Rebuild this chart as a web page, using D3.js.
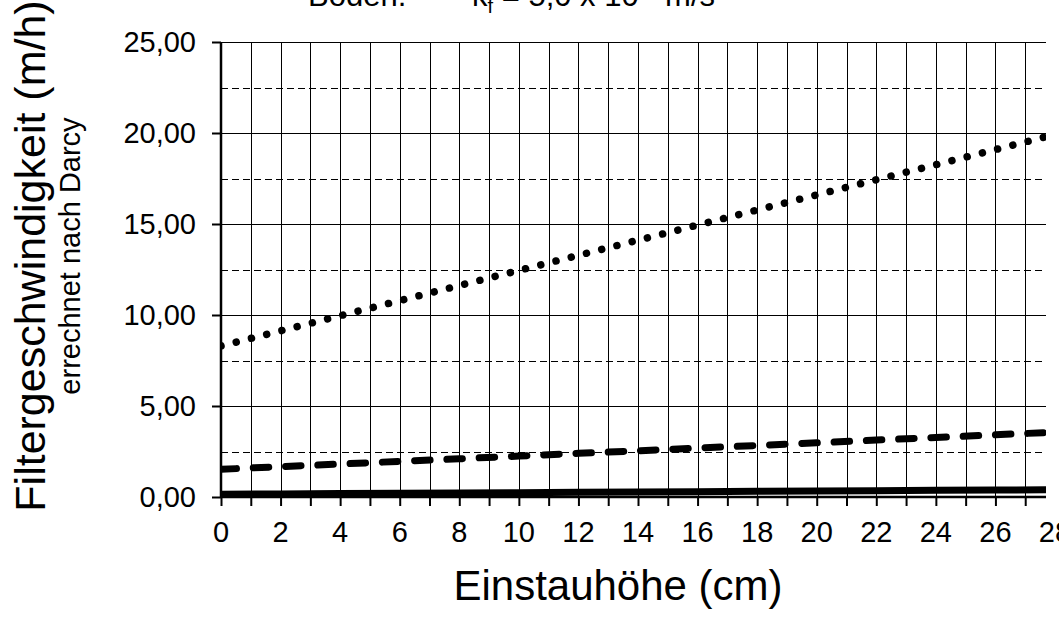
<!DOCTYPE html>
<html>
<head>
<meta charset="utf-8">
<script src="https://cdn.jsdelivr.net/npm/d3@7/dist/d3.min.js"></script>
<style>
  html, body { margin: 0; padding: 0; background: #fff; }
  svg { display: block; }
  text { font-family: "Liberation Sans", Arial, sans-serif; fill: #000; }
</style>
</head>
<body>
<svg id="chart" width="1059" height="622"></svg>
<script>
// ---- data ----
const heights = [0, 2, 4, 6, 8, 10, 12, 14, 16, 18, 20, 22, 24, 26, 28];           // Einstauhöhe (cm)
const seriesDotted = [8.30, 9.13, 9.96, 10.79, 11.62, 12.45, 13.28, 14.11, 14.94, 15.77, 16.60, 17.43, 18.26, 19.09, 19.92];
const seriesDashed = [1.52, 1.67, 1.81, 1.96, 2.10, 2.25, 2.40, 2.54, 2.69, 2.83, 2.98, 3.13, 3.27, 3.42, 3.56];
const seriesSolid  = [0.15, 0.17, 0.19, 0.20, 0.22, 0.24, 0.26, 0.28, 0.29, 0.31, 0.33, 0.35, 0.37, 0.38, 0.40];
const xTickLabels = [0, 2, 4, 6, 8, 10, 12, 14, 16, 18, 20, 22, 24, 26, 28];
const yMajorTicks = [0, 5, 10, 15, 20, 25];
const yMinorDashed = [2.5, 7.5, 12.5, 17.5, 22.5];
const xGridTicks = d3.range(1, 28);
const xAxisTicks = d3.range(0, 28);

// ---- layout ----
const pLeft = 221, pTop = 42, pBottom = 497, pRight = 1046;
const x = d3.scaleLinear().domain([0, 28]).range([pLeft, 1055]);
const y = d3.scaleLinear().domain([0, 25]).range([pBottom, pTop]);
const fmt = v => d3.format(".2f")(v).replace(".", ",");

const svg = d3.select("#chart");

svg.append("defs").append("clipPath").attr("id", "plotClip")
  .append("rect").attr("x", pLeft).attr("y", pTop - 10)
  .attr("width", pRight - pLeft).attr("height", pBottom - pTop + 10);

// vertical gridlines
svg.append("g").selectAll("line").data(xGridTicks).join("line")
  .attr("x1", d => Math.round(x(d)) + 0.5).attr("x2", d => Math.round(x(d)) + 0.5)
  .attr("y1", pTop).attr("y2", pBottom)
  .attr("stroke", "#000").attr("stroke-width", 1);

// horizontal solid gridlines
svg.append("g").selectAll("line").data(yMajorTicks.filter(d => d > 0)).join("line")
  .attr("x1", pLeft).attr("x2", pRight)
  .attr("y1", d => Math.round(y(d)) + 0.5).attr("y2", d => Math.round(y(d)) + 0.5)
  .attr("stroke", "#000").attr("stroke-width", 1);

// horizontal dashed gridlines
svg.append("g").selectAll("line").data(yMinorDashed).join("line")
  .attr("x1", pLeft).attr("x2", pRight)
  .attr("y1", d => Math.round(y(d)) + 0.5).attr("y2", d => Math.round(y(d)) + 0.5)
  .attr("stroke", "#000").attr("stroke-width", 1.2).attr("stroke-dasharray", "7,4");

// series
const line = d3.line().x((d, i) => x(heights[i])).y(d => y(d));
const g = svg.append("g").attr("clip-path", "url(#plotClip)");

g.append("path").datum(seriesSolid).attr("d", line)
  .attr("fill", "none").attr("stroke", "#000").attr("stroke-width", 7);

g.append("path").datum(seriesDashed).attr("d", line)
  .attr("fill", "none").attr("stroke", "#000").attr("stroke-width", 7)
  .attr("stroke-linecap", "round").attr("stroke-dasharray", "15.5,16.8");

g.append("path").datum(seriesDotted).attr("d", line)
  .attr("fill", "none").attr("stroke", "#000").attr("stroke-width", 7.5)
  .attr("stroke-linecap", "round").attr("stroke-dasharray", "0.01,15.7");

// x axis
const xAxis = d3.axisBottom(x).tickValues(xAxisTicks).tickSize(9).tickFormat("");
const gx = svg.append("g").attr("transform", `translate(0,${pBottom})`).call(xAxis);
gx.select(".domain").remove();
gx.selectAll(".tick line").attr("stroke", "#000").attr("stroke-width", 2);
svg.append("line").attr("x1", pLeft).attr("x2", pRight).attr("y1", pBottom).attr("y2", pBottom)
  .attr("stroke", "#000").attr("stroke-width", 2.5);

svg.append("g").selectAll("text").data(xTickLabels).join("text")
  .attr("x", d => x(d)).attr("y", 542)
  .attr("text-anchor", "middle").attr("font-size", 29)
  .text(d => d);

// y axis
const yAxis = d3.axisLeft(y).tickValues(yMajorTicks).tickSize(9).tickFormat("");
const gy = svg.append("g").attr("transform", `translate(${pLeft},0)`).call(yAxis);
gy.select(".domain").remove();
gy.selectAll(".tick line").attr("stroke", "#000").attr("stroke-width", 2);
svg.append("line").attr("x1", pLeft).attr("x2", pLeft).attr("y1", pTop).attr("y2", pBottom + 1)
  .attr("stroke", "#000").attr("stroke-width", 2.5);

svg.append("g").selectAll("text").data(yMajorTicks).join("text")
  .attr("x", 196).attr("y", d => y(d) + 10)
  .attr("text-anchor", "end").attr("font-size", 29)
  .text(d => fmt(d));

// axis titles
svg.append("text").attr("transform", "translate(45,256) rotate(-90)")
  .attr("text-anchor", "middle").attr("font-size", 43)
  .text("Filtergeschwindigkeit (m/h)");
svg.append("text").attr("transform", "translate(80,256) rotate(-90)")
  .attr("text-anchor", "middle").attr("font-size", 29)
  .text("errechnet nach Darcy");
svg.append("text").attr("x", 618).attr("y", 600)
  .attr("text-anchor", "middle").attr("font-size", 42)
  .text("Einstauhöhe (cm)");

// title (cut off at top, as in the reference)
const t = svg.append("text").attr("y", 6).attr("font-size", 31);
t.append("tspan").attr("x", 308).text("Boden:");
t.append("tspan").attr("x", 472).text("k");
t.append("tspan").attr("font-size", 20).attr("dy", 7).text("f");
t.append("tspan").attr("font-size", 31).attr("dy", -7).text(" = 5,0 x 10");
t.append("tspan").attr("font-size", 20).attr("dy", -14).text("-5");
t.append("tspan").attr("font-size", 31).attr("dy", 14).text(" m/s");
</script>
</body>
</html>
